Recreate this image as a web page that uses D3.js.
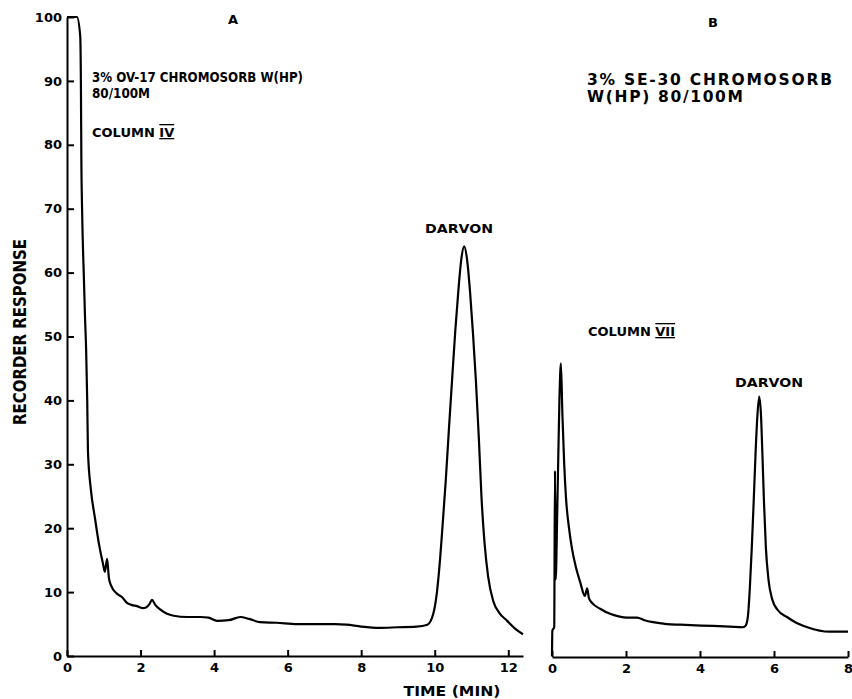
<!DOCTYPE html>
<html>
<head>
<meta charset="utf-8">
<script src="https://cdn.jsdelivr.net/npm/d3@7"></script>
<style>
  body { margin: 0; background: #fff; }
  svg { display: block; }
  text { font-family: "DejaVu Sans", sans-serif; font-weight: bold; fill: #000; }
  .axis path, .axis line { stroke: #000; stroke-width: 2; }
  .axis text { font-size: 13px; }
</style>
</head>
<body>
<script>
// chromatogram A: 3% OV-17, column IV
var timeA = [0, 0.27, 0.36, 0.38, 0.39, 0.41, 0.46, 0.49, 0.52, 0.55, 0.57, 0.65, 0.76, 0.87, 0.98, 1.03, 1.09, 1.14, 1.2,
  1.35, 1.5, 1.63, 1.75, 1.9, 2.05, 2.15, 2.25, 2.31, 2.4, 2.55, 2.72, 2.9, 3.27, 3.62, 3.85, 4.08, 4.4, 4.71,
  4.95, 5.25, 5.7, 6.26, 6.8, 7.3, 7.6, 8.0, 8.5, 9.0, 9.5, 9.8, 9.96, 10.06, 10.15, 10.22, 10.3, 10.38, 10.48, 10.56,
  10.64, 10.72, 10.8, 10.88, 10.96, 11.04, 11.12, 11.2, 11.27, 11.35, 11.45, 11.59, 11.75, 11.97, 12.2, 12.4];
var respA = [100, 100, 97, 88, 78, 70, 59, 53, 48, 40, 32, 26, 21.6, 17.5, 14.4, 13.2, 15.2, 12.2, 11,
  9.8, 9.2, 8.3, 8, 7.8, 7.5, 7.6, 8.2, 8.8, 8, 7.2, 6.6, 6.3, 6.1, 6.1, 6.0, 5.5, 5.6, 6.1,
  5.8, 5.3, 5.2, 5.0, 5.0, 5.0, 4.9, 4.6, 4.4, 4.5, 4.6, 4.9, 6.6, 10, 15.5, 21, 27.5, 35, 44, 51,
  57, 62, 64.1, 62, 57, 50.5, 43, 34, 25, 18, 12.5, 8.6, 6.8, 5.5, 4.2, 3.4];

// chromatogram B: 3% SE-30, column VII
var timeB = [0, 0.01, 0.06, 0.08, 0.1, 0.14, 0.2, 0.24, 0.28, 0.33, 0.38, 0.46, 0.54, 0.65, 0.76, 0.89, 0.95, 1.0,
  1.1, 1.3, 1.57, 1.8, 2.03, 2.3, 2.5, 2.73, 3.1, 3.46, 4.35, 4.8, 5.16, 5.24, 5.3, 5.35, 5.4, 5.45, 5.5,
  5.55, 5.6, 5.65, 5.69, 5.73, 5.78, 5.85, 5.95, 6.1, 6.35, 6.6, 6.9, 7.5, 8.0];
var respB = [0, 4, 4.5, 29, 12, 22, 40, 45.8, 38, 30, 24.6, 20, 16.8, 13.8, 11.6, 9.4, 10.6, 9.0,
  8.2, 7.4, 6.6, 6.2, 6.0, 6.0, 5.6, 5.3, 5.0, 4.9, 4.7, 4.6, 4.5, 4.8, 6.5, 11, 17, 24, 31.5,
  37.5, 40.6, 37.5, 31, 24, 17, 12, 8.9, 7.2, 6.1, 5.2, 4.5, 3.8, 3.8];

var yTicks = [0, 10, 20, 30, 40, 50, 60, 70, 80, 90, 100];
var xTicksA = [0, 2, 4, 6, 8, 10, 12];
var xTicksB = [0, 2, 4, 6, 8];

var w = 852, h = 699;
var svg = d3.select("body").append("svg")
    .attr("width", w)
    .attr("height", h);

var y = d3.scaleLinear().domain([0, 100]).range([656, 17]);
var xA = d3.scaleLinear().domain([0, 12.4]).range([67, 523]);
var xB = d3.scaleLinear().domain([0, 8]).range([552, 848]);

// axes
svg.append("g").attr("class", "axis")
    .attr("transform", "translate(67,0)")
    .call(d3.axisLeft(y).tickValues(yTicks).tickSizeInner(-7).tickSizeOuter(0).tickPadding(5));

svg.append("g").attr("class", "axis")
    .attr("transform", "translate(0,656)")
    .call(d3.axisBottom(xA).tickValues(xTicksA).tickSizeInner(-6).tickSizeOuter(0).tickPadding(7));

svg.append("g").attr("class", "axis")
    .attr("transform", "translate(0,657)")
    .call(d3.axisBottom(xB).tickValues(xTicksB).tickSizeInner(-6).tickSizeOuter(0).tickPadding(7));

svg.selectAll(".axis text").attr("fill", "#000");

// traces
function trace(t, r, x) {
    var pts = t.map(function(d, i) { return [d, r[i]]; });
    return d3.line()
        .x(function(d) { return x(d[0]); })
        .y(function(d) { return y(d[1]); })
        .curve(d3.curveMonotoneX)(pts);
}

svg.append("path")
    .attr("d", trace(timeA, respA, xA))
    .attr("fill", "none")
    .attr("stroke", "#000")
    .attr("stroke-width", 2.2)
    .attr("stroke-linejoin", "round");

svg.append("path")
    .attr("d", trace(timeB, respB, xB))
    .attr("fill", "none")
    .attr("stroke", "#000")
    .attr("stroke-width", 2.2)
    .attr("stroke-linejoin", "round");

// labels
function label(txt, x, yy, size, len, anchor) {
    var t = svg.append("text")
        .attr("x", x).attr("y", yy)
        .attr("font-size", size)
        .attr("text-anchor", anchor || "start")
        .text(txt);
    if (len) t.attr("textLength", len).attr("lengthAdjust", "spacingAndGlyphs");
    return t;
}

label("A", 233, 24, 13, null, "middle");
label("B", 713, 27, 13, null, "middle");

label("3% OV-17 CHROMOSORB W(HP)", 92, 82, 14, 211);
label("80/100M", 92, 98, 14, 58);

var colA = label("COLUMN ", 92, 137, 13);
colA.append("tspan").attr("text-decoration", "underline overline").text("IV");

label("DARVON", 425, 233, 13, 68);

label("3% SE-30 CHROMOSORB", 587, 85, 15.5, 245).attr("lengthAdjust", "spacing");
label("W(HP) 80/100M", 587, 102, 15.5, 156).attr("lengthAdjust", "spacing");

var colB = label("COLUMN ", 588, 336, 13);
colB.append("tspan").attr("text-decoration", "underline overline").text("VII");

label("DARVON", 735, 387, 13, 68);

label("TIME (MIN)", 452, 696, 14, 97, "middle");

svg.append("text")
    .attr("transform", "translate(26,332) rotate(-90)")
    .attr("text-anchor", "middle")
    .attr("font-size", 17)
    .attr("textLength", 186)
    .attr("lengthAdjust", "spacingAndGlyphs")
    .text("RECORDER RESPONSE");
</script>
</body>
</html>
